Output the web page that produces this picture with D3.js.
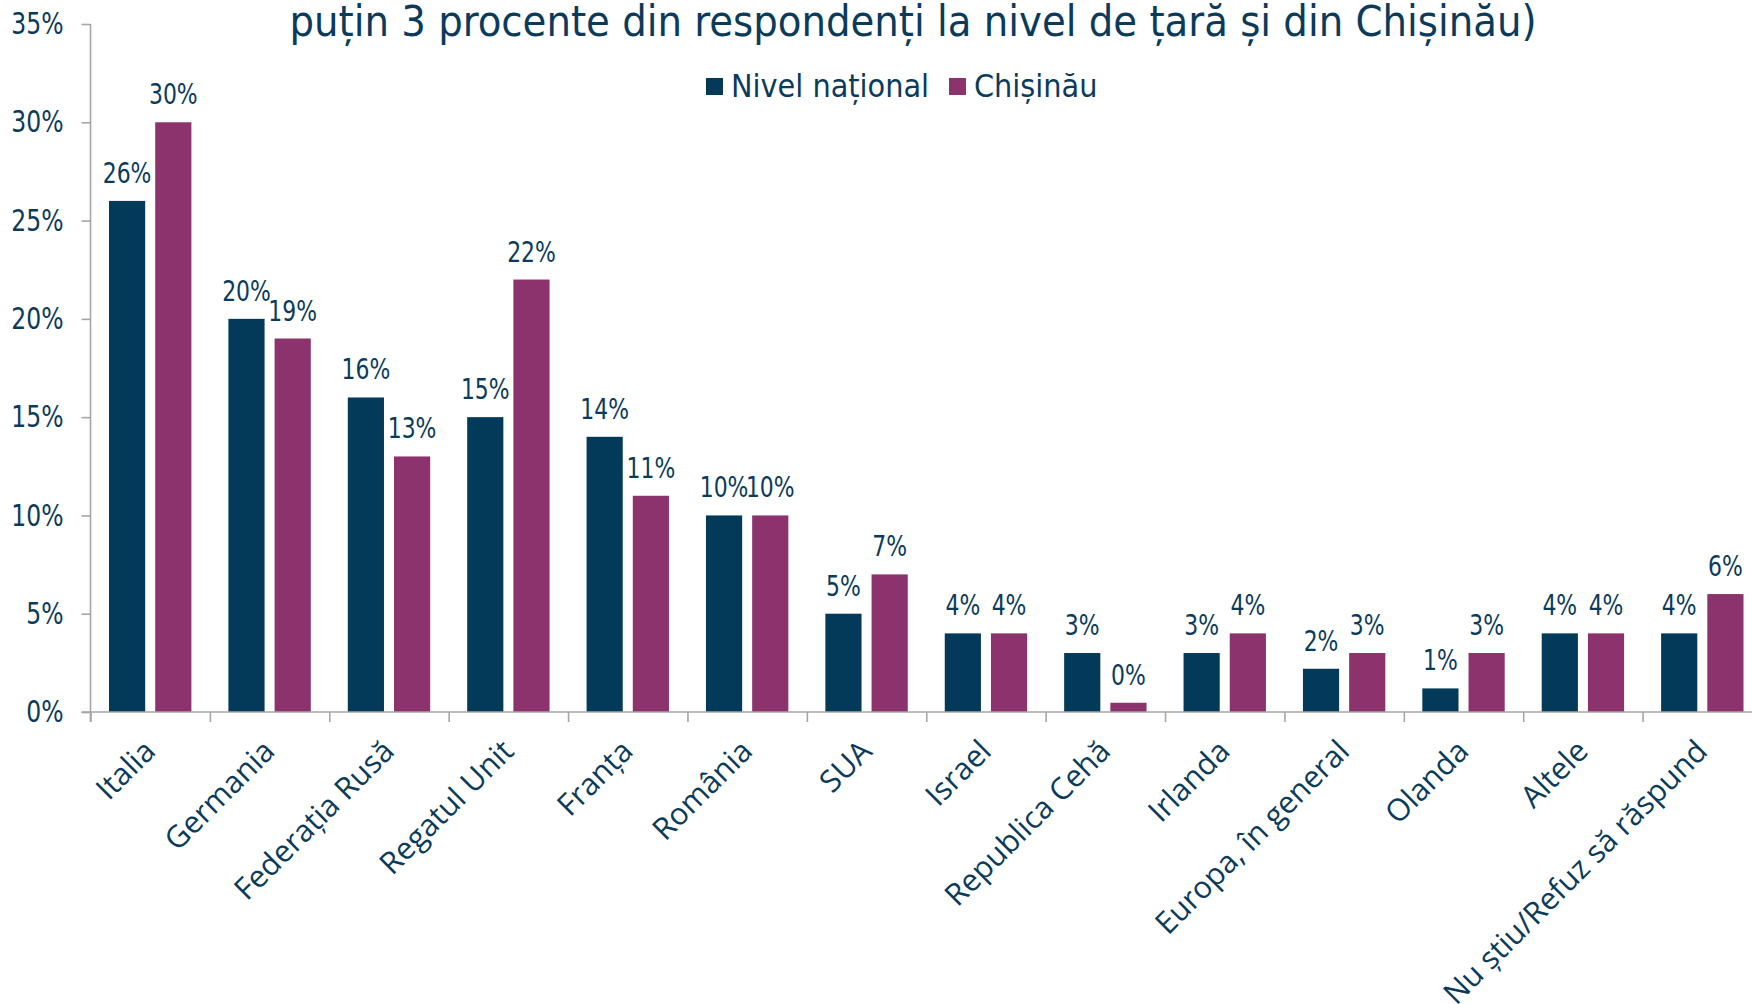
<!DOCTYPE html>
<html>
<head>
<meta charset="utf-8">
<script src="https://cdn.jsdelivr.net/npm/d3@7"></script>
<style>
  body { margin: 0; background: #fff; overflow: hidden; }
  svg { display: block; }
</style>
</head>
<body>
<div id="graph"></div>
<script>
// data
const categories = ["Italia", "Germania", "Federația Rusă", "Regatul Unit", "Franța", "România", "SUA",
  "Israel", "Republica Cehă", "Irlanda", "Europa, în general", "Olanda", "Altele", "Nu știu/Refuz să răspund"];
const seriesNames = ["Nivel național", "Chișinău"];
const nationalValues = [26, 20, 16, 15, 14, 10, 5, 4, 3, 3, 2.2, 1.2, 4, 4];
const chisinauValues = [30, 19, 13, 22, 11, 10, 7, 4, 0.47, 4, 3, 3, 4, 6];
const yTicks = [0, 5, 10, 15, 20, 25, 30, 35];
const titleText = "puțin 3 procente din respondenți la nivel de țară și din Chișinău)";

const colors = { "Nivel național": "#033a5a", "Chișinău": "#8c326c" };
const textColor = "#0b3b5b";
const axisColor = "#a6a6a6";
const numberFont = "'DejaVu Sans Condensed', 'DejaVu Sans'";

const W = 1752, H = 1004;
const plot = { left: 90.5, right: 1762, top: 24, bottom: 712 };

const svg = d3.select("#graph").append("svg").attr("width", W).attr("height", H);

//scales
const x = d3.scaleBand().domain(categories).range([plot.left, plot.right])
  .paddingInner(0.31).paddingOuter(0.155);
const xSub = d3.scaleBand().domain(seriesNames).range([0, x.bandwidth()]).paddingInner(0.217);
const y = d3.scaleLinear().domain([0, 35]).range([plot.bottom, plot.top]);
const xEdges = d3.scaleLinear().domain([0, categories.length]).range([plot.left, plot.right]);

//rows for the bars
const rows = categories.map((c, i) => ({ cat: c, values: [
  { key: seriesNames[0], value: nationalValues[i] },
  { key: seriesNames[1], value: chisinauValues[i] }
]}));

//title
svg.append("text")
  .attr("x", 913).attr("y", 36)
  .attr("text-anchor", "middle")
  .style("font-family", "'DejaVu Sans Condensed', 'DejaVu Sans'")
  .style("font-stretch", "condensed")
  .style("font-size", "43px")
  .style("fill", textColor)
  .text(titleText);

//legend
const legendX = [706, 949];
const legend = svg.append("g").selectAll("g").data(seriesNames).enter().append("g")
  .attr("transform", (d, i) => "translate(" + legendX[i] + ",78)");
legend.append("rect").attr("width", 17).attr("height", 17).style("fill", d => colors[d]);
legend.append("text")
  .attr("x", 25).attr("y", 19)
  .style("font-family", "'DejaVu Sans Condensed', 'DejaVu Sans'")
  .style("font-stretch", "condensed")
  .style("font-size", "32px")
  .style("fill", textColor)
  .text(d => d);

//bars
const groups = svg.append("g").selectAll("g").data(rows).enter().append("g")
  .attr("transform", d => "translate(" + x(d.cat) + ",0)");
groups.selectAll("rect").data(d => d.values).enter().append("rect")
  .attr("x", d => xSub(d.key))
  .attr("y", d => y(d.value))
  .attr("width", xSub.bandwidth())
  .attr("height", d => y(0) - y(d.value))
  .style("fill", d => colors[d.key]);

//value labels (narrowed to look like the original font)
groups.selectAll("text").data(d => d.values).enter().append("text")
  .attr("transform", d => "translate(" + (xSub(d.key) + xSub.bandwidth() / 2) + "," + (y(d.value) - 18) + ") scale(0.84,1)")
  .attr("text-anchor", "middle")
  .style("font-family", numberFont)
  .style("font-stretch", "condensed")
  .style("font-size", "29px")
  .style("fill", textColor)
  .text(d => Math.round(d.value) + "%");

//y axis
const yAxis = svg.append("g")
  .attr("transform", "translate(" + plot.left + ",0)")
  .call(d3.axisLeft(y).tickValues(yTicks).tickSize(9).tickPadding(0).tickFormat(d => d + "%"));
yAxis.select(".domain").attr("d", "M0," + plot.top + "V" + (plot.bottom + 10));
yAxis.selectAll(".tick text")
  .attr("x", null)
  .attr("transform", "translate(-27,0) scale(0.87,1)")
  .style("font-family", numberFont)
  .style("font-stretch", "condensed")
  .style("font-size", "30px")
  .style("fill", textColor);

//x axis: ticks at the edges of the categories
const xAxis = svg.append("g")
  .attr("transform", "translate(0," + plot.bottom + ")")
  .call(d3.axisBottom(xEdges).tickValues(d3.range(categories.length + 1)).tickSize(10).tickFormat(""));
xAxis.select(".domain").attr("d", "M" + (plot.left - 9) + ",0H" + W);

svg.selectAll(".domain, .tick line").style("stroke", axisColor).style("stroke-width", 1.6);

//category labels
svg.append("g").selectAll("text").data(categories).enter().append("text")
  .attr("transform", d => "translate(" + (x(d) + x.bandwidth() / 2 + 7) + ",753) rotate(-45)")
  .attr("text-anchor", "end")
  .style("font-family", "'Open Sans'")
  .style("font-size", "30.5px")
  .style("fill", textColor)
  .text(d => d);
</script>
</body>
</html>
